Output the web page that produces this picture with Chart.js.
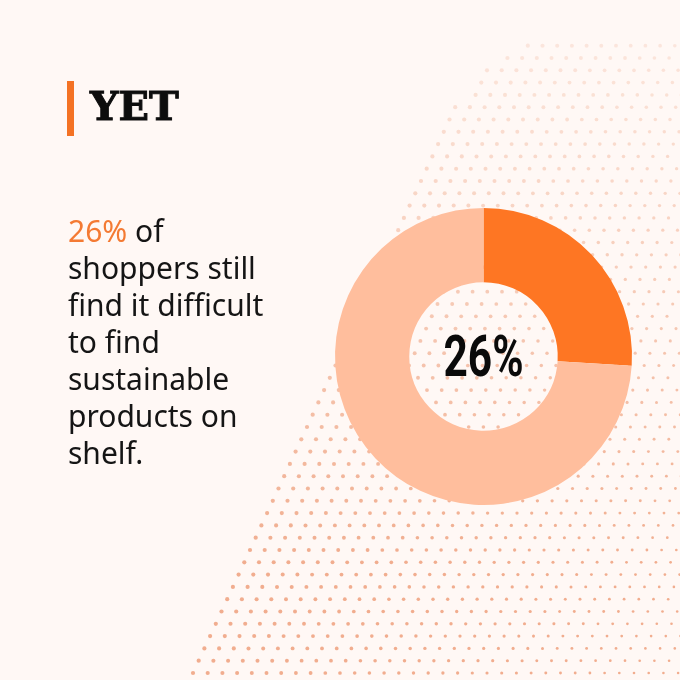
<!DOCTYPE html>
<html>
<head>
<meta charset="utf-8">
<script src="https://cdn.jsdelivr.net/npm/chart.js@4.4.1/dist/chart.umd.min.js"></script>
<style>
    html, body {
        margin: 0;
        padding: 0;
        background: #fff8f5;
    }
    .page {
        position: relative;
        width: 680px;
        height: 680px;
        overflow: hidden;
    }
    #shareChart {
        position: absolute;
        left: 0;
        top: 0;
    }
    .title-bar {
        position: absolute;
        left: 67px;
        top: 81px;
        width: 7px;
        height: 55px;
        background: #f47224;
    }
    .title {
        position: absolute;
        left: 90px;
        top: 86px;
        margin: 0;
        font: bold 40px/40px "DejaVu Serif", serif;
        color: #0d0d0d;
        -webkit-text-stroke: 1px #0d0d0d;
    }
    .statement {
        position: absolute;
        left: 68px;
        top: 212px;
        width: 240px;
        margin: 0;
        font: 30px/37px "Noto Sans", sans-serif;
        color: #151515;
    }
    .statement .hl {
        color: #f47a33;
    }
</style>
</head>
<body>
<div class="page">
    <canvas id="shareChart" width="680" height="680"></canvas>
    <div class="title-bar"></div>
    <h1 class="title">YET</h1>
    <p class="statement"><span class="hl">26%</span> of<br>shoppers still<br>find it difficult<br>to find<br>sustainable<br>products on<br>shelf.</p>
</div>
<script>
// Datos del gráfico
const categories = ['Find it difficult', 'Do not find it difficult'];
const shares = [26, 74];

// Fondo de puntos (decorativo)
const dotBackground = {
    id: 'dotBackground',
    beforeDatasetsDraw(chart) {
        const ctx = chart.ctx;
        const clamp = v => Math.min(1, Math.max(0, v));
        ctx.save();
        for (let j = 0; j < 60; j++) {
            const y = 673 - j * 12.3;
            if (y < 44) break;
            for (let i = 0; i < 60; i++) {
                const x = 193 + j * 5.7 + i * 14.7;
                if (x > 686) break;
                const edge = 193 + (673 - y) * 0.465 + Math.pow(Math.max(0, 110 - y), 2) * 0.0075;
                if (x < edge - 1) continue;
                const r = 2.1 - 0.8 * clamp((x - edge) / 450);
                const alpha = 0.2 + 0.65 * clamp((y - 40) / 520);
                ctx.fillStyle = `rgba(238, 160, 125, ${alpha})`;
                ctx.beginPath();
                ctx.arc(x, y, r, 0, Math.PI * 2);
                ctx.fill();
            }
        }
        ctx.restore();
    }
};

// Texto central
const centerLabel = {
    id: 'centerLabel',
    afterDraw(chart) {
        const ctx = chart.ctx;
        const meta = chart.getDatasetMeta(0).data[0];
        const text = shares[0] + '%';
        ctx.save();
        ctx.font = 'bold 57px Roboto, sans-serif';
        ctx.fillStyle = '#0a0a0a';
        ctx.textAlign = 'center';
        ctx.textBaseline = 'alphabetic';
        const w = ctx.measureText(text).width;
        const sx = 80 / w;
        ctx.translate(meta.x, meta.y + 19);
        ctx.scale(sx, 1);
        ctx.fillText(text, 0, 0);
        ctx.restore();
    }
};

const ctx = document.getElementById('shareChart').getContext('2d');
const shareChart = new Chart(ctx, {
    type: 'doughnut',
    data: {
        labels: categories,
        datasets: [{
            data: shares,
            backgroundColor: ['#fe7623', '#ffbe9d'],
            borderWidth: 0,
            hoverOffset: 0
        }]
    },
    options: {
        responsive: false,
        animation: false,
        cutout: '50%',
        layout: {
            padding: { left: 335, right: 48, top: 208, bottom: 175 }
        },
        plugins: {
            legend: { display: false },
            tooltip: { enabled: false }
        }
    },
    plugins: [dotBackground, centerLabel]
});
</script>
</body>
</html>
